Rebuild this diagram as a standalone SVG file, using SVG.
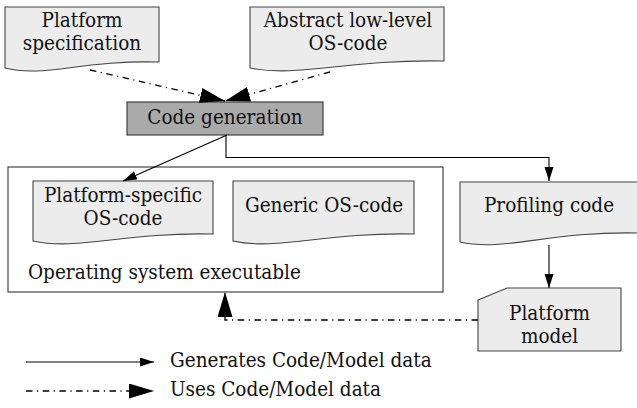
<svg xmlns="http://www.w3.org/2000/svg" width="637" height="408" viewBox="0 0 637 408">
<style>
text{font-family:"DejaVu Serif Condensed","DejaVu Serif",serif;font-stretch:condensed;font-size:20.5px;fill:#111}
.doc{fill:#ececec;stroke:#444;stroke-width:1.1}
.gen{fill:none;stroke:#000;stroke-width:1.1}
.uses{fill:none;stroke:#000;stroke-width:1.3;stroke-dasharray:6.5 4.5 1.2 4.5}
.c{text-anchor:middle}
</style>
<defs>
<marker id="big" markerUnits="userSpaceOnUse" markerWidth="26" markerHeight="16" refX="25" refY="7.5" orient="auto">
<path d="M0,0 L25,7.5 L0,15 Z" fill="#000" stroke="none"/>
</marker>
<marker id="small" markerUnits="userSpaceOnUse" markerWidth="15" markerHeight="10" refX="14" refY="4.5" orient="auto">
<path d="M0,0 L14,4.5 L0,9 Z" fill="#000" stroke="none"/>
</marker>
</defs>
<rect width="637" height="408" fill="#fff"/>

<g id="os-executable">
<rect x="8" y="167" width="435" height="125" fill="#fff" stroke="#333" stroke-width="1.1"/>
<text x="28" y="279">Operating system executable</text>
</g>

<g id="platform-spec">
<path class="doc" d="M5,7 H159 V62 C82,60 43.5,78 5,68 Z"/>
<text class="c" x="82" y="27">Platform</text>
<text class="c" x="82" y="50">specification</text>
</g>

<g id="abstract-os">
<path class="doc" d="M250,7 H444 V61 C347,59 298.5,78 250,68 Z"/>
<text class="c" x="348" y="27">Abstract low-level</text>
<text class="c" x="348" y="50">OS-code</text>
</g>

<g id="code-generation">
<rect x="127" y="102" width="196" height="33" fill="#aaaaaa" stroke="#333" stroke-width="1.1"/>
<text class="c" x="225" y="124">Code generation</text>
</g>

<g id="platform-specific">
<path class="doc" d="M33,181 H213 V234 C123,232 78,251 33,241 Z"/>
<text class="c" x="123" y="202">Platform-specific</text>
<text class="c" x="123" y="225">OS-code</text>
</g>

<g id="generic-os">
<path class="doc" d="M233,181 H414 V234 C323.5,232 278,251 233,241 Z"/>
<text class="c" x="324" y="212">Generic OS-code</text>
</g>

<g id="profiling-code">
<path class="doc" d="M460,182 H639 V233 C549,231 505,252 460,242 Z"/>
<text class="c" x="549" y="212">Profiling code</text>
</g>

<g id="platform-model">
<path class="doc" d="M478,300 L507,288 H621 V351 H478 Z"/>
<text class="c" x="549.5" y="320">Platform</text>
<text class="c" x="549.5" y="343">model</text>
</g>

<g id="connectors">
<line class="uses" x1="90" y1="70" x2="225" y2="101" marker-end="url(#big)"/>
<line class="uses" x1="330" y1="72" x2="225" y2="101" marker-end="url(#big)"/>
<line class="gen" x1="227" y1="135" x2="123" y2="181" marker-end="url(#small)"/>
<path class="gen" d="M226,135 V157.5 H549 V181" marker-end="url(#small)"/>
<line class="gen" x1="549" y1="245" x2="549" y2="288" marker-end="url(#small)"/>
<path class="uses" d="M478,320 H225 V292" marker-end="url(#big)"/>
</g>

<g id="legend">
<line class="gen" x1="26" y1="362" x2="154" y2="362" marker-end="url(#small)"/>
<text x="170" y="367">Generates Code/Model data</text>
<line class="uses" x1="26" y1="391" x2="154" y2="391" marker-end="url(#big)"/>
<text x="170" y="396">Uses Code/Model data</text>
</g>
</svg>
